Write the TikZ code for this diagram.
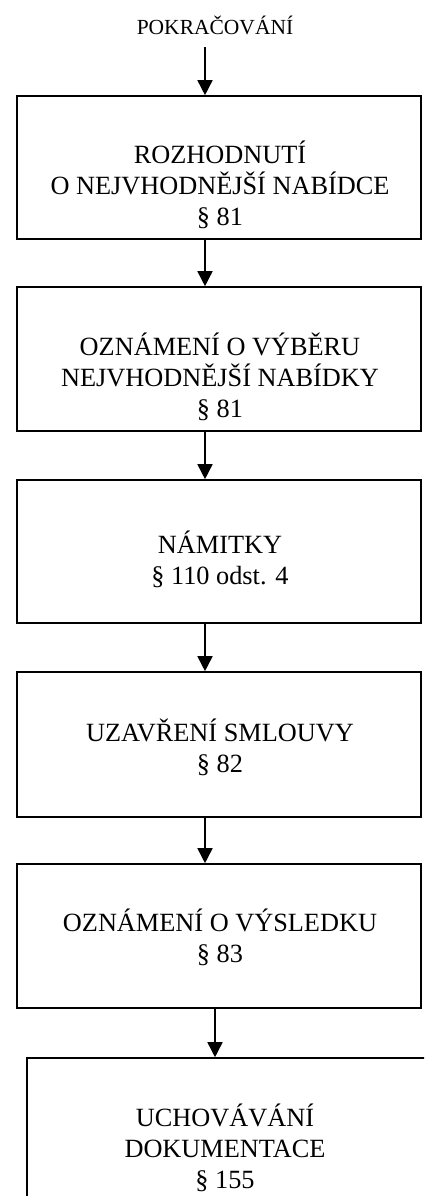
\documentclass[tikz,border=0pt]{standalone}
\usepackage{fontspec}
\setmainfont{Liberation Serif}
\usetikzlibrary{arrows.meta}
\begin{document}
\begin{tikzpicture}[x=1pt,y=-1pt,
  stepbox/.style={draw=black,line width=1.6pt,rectangle,inner sep=0pt},
  lbl/.style={align=center,font=\fontsize{26.3}{31}\selectfont,inner sep=0pt},
  ttl/.style={font=\fontsize{21.5}{24}\selectfont,inner sep=0pt},
  arr/.style={line width=1.6pt,-{Triangle[length=15pt,width=15pt]}}]
\clip (0,0) rectangle (424,1196);
\fill[white] (0,0) rectangle (424,1196);
% title
\node[ttl] (t) at (215,25) {POKRAČOVÁNÍ};
\coordinate (t0) at (205,47);
% boxes
\node[stepbox,minimum width=404pt,minimum height=143pt] (b1) at (219,167.5) {};
\node[stepbox,minimum width=404pt,minimum height=144pt] (b2) at (219,359) {};
\node[stepbox,minimum width=404pt,minimum height=143pt] (b3) at (219,551.5) {};
\node[stepbox,minimum width=404pt,minimum height=145pt] (b4) at (219,744.5) {};
\node[stepbox,minimum width=404pt,minimum height=144pt] (b5) at (219,936) {};
\node[stepbox,minimum width=404pt,minimum height=150pt] (b6) at (229,1133) {};
% texts
\node[lbl] (l1) at (220,185) {ROZHODNUTÍ\\O NEJVHODNĚJŠÍ NABÍDCE\\§ 81};
\node[lbl] (l2) at (220,377) {OZNÁMENÍ O VÝBĚRU\\NEJVHODNĚJŠÍ NABÍDKY\\§ 81};
\node[lbl] (l3) at (220,559) {NÁMITKY\\§ 110 odst. 4};
\node[lbl] (l4) at (220,747) {UZAVŘENÍ SMLOUVY\\§ 82};
\node[lbl] (l5) at (220,937) {OZNÁMENÍ O VÝSLEDKU\\§ 83};
\node[lbl] (l6) at (225,1148) {UCHOVÁVÁNÍ\\DOKUMENTACE\\§ 155};
% connectors
\draw[arr] (t0) -- (t0 |- b1.north);
\draw[arr] ([xshift=-14pt]b1.south) -- ([xshift=-14pt]b2.north);
\draw[arr] ([xshift=-14pt]b2.south) -- ([xshift=-14pt]b3.north);
\draw[arr] ([xshift=-14pt]b3.south) -- ([xshift=-14pt]b4.north);
\draw[arr] ([xshift=-14pt]b4.south) -- ([xshift=-14pt]b5.north);
\draw[arr] ([xshift=-4pt]b5.south) -- ([xshift=-14pt]b6.north);
\end{tikzpicture}
\end{document}
